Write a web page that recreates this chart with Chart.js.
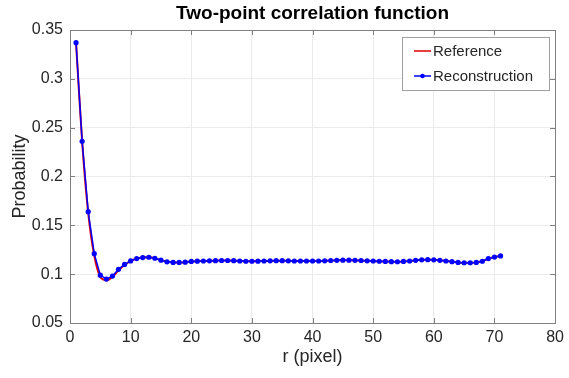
<!DOCTYPE html>
<html>
<head>
<meta charset="utf-8">
<script src="https://cdn.jsdelivr.net/npm/chart.js@4"></script>
<style>
  html, body { margin: 0; padding: 0; background: #fff; }
  #wrap { width: 569px; height: 378px; }
</style>
</head>
<body>
<div id="wrap"><canvas id="chart" width="569" height="378"></canvas></div>
<script>
// r values (pixels)
const rValues = Array.from({length: 71}, (_, i) => i + 1);

// two-point correlation
const reconstruction = [
  0.337, 0.236, 0.164, 0.121, 0.099, 0.095, 0.098, 0.105, 0.110, 0.1136,
  0.116, 0.117, 0.1173, 0.1163, 0.1143, 0.1126, 0.112, 0.112, 0.1123, 0.113,
  0.1133, 0.1135, 0.1137, 0.1138, 0.114, 0.114, 0.1138, 0.1135, 0.1132, 0.1132,
  0.1133, 0.1135, 0.1137, 0.1138, 0.1138, 0.1137, 0.1135, 0.1135, 0.1135, 0.1135,
  0.1135, 0.1137, 0.114, 0.1142, 0.1143, 0.1143, 0.1142, 0.114, 0.1137, 0.1135,
  0.1132, 0.113, 0.1128, 0.1127, 0.113, 0.1135, 0.1142, 0.1147, 0.1148, 0.1147,
  0.1142, 0.1135, 0.1128, 0.112, 0.1117, 0.1117, 0.112, 0.1132, 0.116, 0.1175,
  0.1187
];

const reference = [
  0.337, 0.236, 0.163, 0.119, 0.097, 0.0935, 0.097, 0.104, 0.1095, 0.1134,
  0.116, 0.117, 0.1173, 0.1163, 0.1143, 0.1126, 0.112, 0.112, 0.1123, 0.113,
  0.1133, 0.1135, 0.1137, 0.1138, 0.114, 0.114, 0.1138, 0.1135, 0.1132, 0.1132,
  0.1133, 0.1135, 0.1137, 0.1138, 0.1138, 0.1137, 0.1135, 0.1135, 0.1135, 0.1135,
  0.1135, 0.1137, 0.114, 0.1142, 0.1143, 0.1143, 0.1142, 0.114, 0.1137, 0.1135,
  0.1132, 0.113, 0.1128, 0.1127, 0.113, 0.1135, 0.1142, 0.1147, 0.1148, 0.1147,
  0.1142, 0.1135, 0.1128, 0.112, 0.1117, 0.1117, 0.112, 0.1132, 0.116, 0.1175,
  0.1187
];

const xTicks = [0, 10, 20, 30, 40, 50, 60, 70, 80];
const yTicks = [0.05, 0.1, 0.15, 0.2, 0.25, 0.3, 0.35];
const chartTitle = 'Two-point correlation function';

const FONT = 'Liberation Sans, Arial, Helvetica, sans-serif';
const TEXT = '#262626';
const BOX = '#808080';

// MATLAB style title, legend box and inward ticks
const matlabBits = {
  id: 'matlabBits',
  afterDraw(chart) {
    const ctx = chart.ctx;
    const a = chart.chartArea;
    const xs = chart.scales.x, ys = chart.scales.y;
    ctx.save();
    ctx.strokeStyle = BOX;
    ctx.lineWidth = 1;
    ctx.beginPath();
    xTicks.forEach(v => {
      const px = Math.round(xs.getPixelForValue(v)) + 0.5;
      ctx.moveTo(px, a.bottom); ctx.lineTo(px, a.bottom - 5);
      ctx.moveTo(px, a.top); ctx.lineTo(px, a.top + 5);
    });
    yTicks.forEach(v => {
      const py = Math.round(ys.getPixelForValue(v)) + 0.5;
      ctx.moveTo(a.left, py); ctx.lineTo(a.left + 5, py);
      ctx.moveTo(a.right, py); ctx.lineTo(a.right - 5, py);
    });
    ctx.stroke();
    ctx.strokeRect(Math.round(a.left) + 0.5, Math.round(a.top) + 0.5,
                   Math.round(a.right - a.left), Math.round(a.bottom - a.top));

    // title centred over the axes
    ctx.fillStyle = '#000';
    ctx.font = 'bold 19px ' + FONT;
    ctx.textAlign = 'center';
    ctx.textBaseline = 'middle';
    ctx.fillText(chartTitle, (a.left + a.right) / 2, 14);

    // legend
    const lx = 402, ly = 37, lw = 147, lh = 53;
    ctx.fillStyle = '#fff';
    ctx.fillRect(lx, ly, lw, lh);
    ctx.strokeStyle = '#a0a0a0';
    ctx.strokeRect(lx + 0.5, ly + 0.5, lw, lh);
    const items = [chart.data.datasets[1], chart.data.datasets[0]];
    ctx.font = '15px ' + FONT;
    ctx.textAlign = 'left';
    items.forEach((ds, i) => {
      const cy = ly + 14 + i * 25;
      ctx.strokeStyle = ds.borderColor;
      ctx.lineWidth = 1.5;
      ctx.beginPath();
      ctx.moveTo(lx + 12, cy); ctx.lineTo(lx + 29, cy);
      ctx.stroke();
      if (ds.pointRadius > 0) {
        ctx.fillStyle = ds.pointBackgroundColor;
        ctx.beginPath();
        ctx.arc(lx + 20.5, cy, 2.3, 0, Math.PI * 2);
        ctx.fill();
      }
      ctx.fillStyle = TEXT;
      ctx.fillText(ds.label, lx + 31, cy + 1);
    });
    ctx.restore();
  }
};

new Chart(document.getElementById('chart'), {
  type: 'line',
  data: {
    datasets: [
      {
        label: 'Reconstruction',
        data: rValues.map((r, i) => ({x: r, y: reconstruction[i]})),
        borderColor: '#0000ff',
        backgroundColor: '#0000ff',
        pointBackgroundColor: '#0000ff',
        pointBorderColor: '#0000ff',
        pointRadius: 2.6,
        pointBorderWidth: 0,
        borderWidth: 1.5,
        tension: 0,
        order: 1
      },
      {
        label: 'Reference',
        data: rValues.map((r, i) => ({x: r, y: reference[i]})),
        borderColor: '#e00000',
        backgroundColor: '#e00000',
        pointRadius: 0,
        borderWidth: 2,
        tension: 0.3,
        order: 2
      }
    ]
  },
  options: {
    responsive: false,
    animation: false,
    layout: { padding: { top: 30, right: 13, left: 9, bottom: 8 } },
    plugins: {
      legend: { display: false },
      tooltip: { enabled: false },
      title: { display: false }
    },
    scales: {
      x: {
        type: 'linear',
        min: 0, max: 80,
        afterBuildTicks: s => { s.ticks = xTicks.map(v => ({value: v})); },
        afterFit: s => { s.height = 47; },
        grid: { color: '#ebebeb', drawTicks: false },
        border: { display: false },
        ticks: { color: TEXT, font: { family: FONT, size: 16 }, padding: 5 },
        title: {
          display: true, text: 'r (pixel)', color: TEXT,
          font: { family: FONT, size: 18 }, padding: { top: 0, bottom: 2 }
        }
      },
      y: {
        type: 'linear',
        min: 0.05, max: 0.35,
        afterBuildTicks: s => { s.ticks = yTicks.map(v => ({value: v})); },
        afterFit: s => { s.width = 61; },
        grid: { color: '#ebebeb', drawTicks: false },
        border: { display: false },
        ticks: {
          color: TEXT, font: { family: FONT, size: 16 }, padding: 7,
          callback: v => String(parseFloat(v.toFixed(2)))
        },
        title: {
          display: true, text: 'Probability', color: TEXT,
          font: { family: FONT, size: 18 }, padding: { top: 0, bottom: 0 }
        }
      }
    }
  },
  plugins: [matlabBits]
});
</script>
</body>
</html>
